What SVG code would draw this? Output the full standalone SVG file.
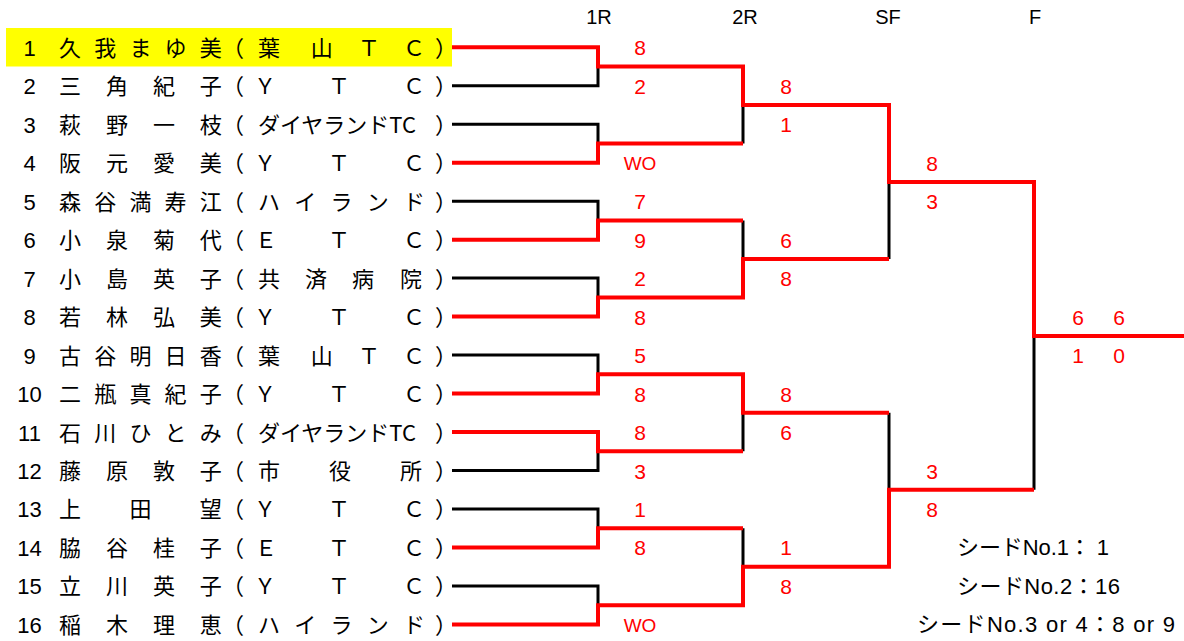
<svg xmlns="http://www.w3.org/2000/svg" width="1184" height="641" viewBox="0 0 1184 641">
<style>
.nm{font-family:"Noto Sans CJK JP","Noto Sans CJK SC",sans-serif;font-size:22px;fill:#000;text-anchor:middle}
.af{font-family:"Noto Sans CJK JP","Noto Sans CJK SC",sans-serif;font-size:22px;fill:#000}
.no{font-family:"Liberation Sans","Noto Sans CJK JP",sans-serif;font-size:22px;fill:#000;text-anchor:middle}
.sc{font-family:"Liberation Sans",sans-serif;font-size:21px;fill:#ff0000;text-anchor:middle}
.wo{font-family:"Liberation Sans",sans-serif;font-size:19px;fill:#ff0000;text-anchor:middle}
.hd{font-family:"Liberation Sans",sans-serif;font-size:20px;fill:#000;text-anchor:middle}
.sd{font-family:"Liberation Sans","Noto Sans CJK JP",sans-serif;font-size:22px;fill:#000}
.r{stroke:#ff0000;stroke-width:4;fill:none}
.b{stroke:#000;stroke-width:3;fill:none}
</style>
<rect width="1184" height="641" fill="#fff"/>
<g id="headers">
<text class="hd" x="599" y="24">1R</text>
<text class="hd" x="745" y="24">2R</text>
<text class="hd" x="888" y="24">SF</text>
<text class="hd" x="1035" y="24">F</text>
</g>
<g id="p1"><rect x="6" y="28" width="446" height="38.5" fill="#ffff00"/>
<text class="no" x="29.5" y="55.8">1</text>
<text class="nm" x="70 105.2 140.4 175.6 210.8" y="55.8">久我まゆ美</text>
<text class="nm" x="233 269 321.7 369 414 446" y="55.8">（葉山ＴＣ）</text></g>
<g id="p2"><text class="no" x="29.5" y="94.3">2</text>
<text class="nm" x="70 116.9 163.9 210.8" y="94.3">三角紀子</text>
<text class="nm" x="233 265 339 414 446" y="94.3">（ＹＴＣ）</text></g>
<g id="p3"><text class="no" x="29.5" y="132.7">3</text>
<text class="nm" x="70 116.9 163.9 210.8" y="132.7">萩野一枝</text>
<text class="nm" x="233" y="132.7">（</text><text class="af" x="258" y="132.7">ダイヤランドTC</text><text class="nm" x="446" y="132.7">）</text></g>
<g id="p4"><text class="no" x="29.5" y="171.2">4</text>
<text class="nm" x="70 116.9 163.9 210.8" y="171.2">阪元愛美</text>
<text class="nm" x="233 265 339 414 446" y="171.2">（ＹＴＣ）</text></g>
<g id="p5"><text class="no" x="29.5" y="209.7">5</text>
<text class="nm" x="70 105.2 140.4 175.6 210.8" y="209.7">森谷満寿江</text>
<text class="nm" x="233 269 305.3 341.5 377.8 414 446" y="209.7">（ハイランド）</text></g>
<g id="p6"><text class="no" x="29.5" y="248.2">6</text>
<text class="nm" x="70 116.9 163.9 210.8" y="248.2">小泉菊代</text>
<text class="nm" x="233 266 339 414 446" y="248.2">（ＥＴＣ）</text></g>
<g id="p7"><text class="no" x="29.5" y="286.6">7</text>
<text class="nm" x="70 116.9 163.9 210.8" y="286.6">小島英子</text>
<text class="nm" x="233 269 316 363 411 446" y="286.6">（共済病院）</text></g>
<g id="p8"><text class="no" x="29.5" y="325.1">8</text>
<text class="nm" x="70 116.9 163.9 210.8" y="325.1">若林弘美</text>
<text class="nm" x="233 265 339 414 446" y="325.1">（ＹＴＣ）</text></g>
<g id="p9"><text class="no" x="29.5" y="363.6">9</text>
<text class="nm" x="70 105.2 140.4 175.6 210.8" y="363.6">古谷明日香</text>
<text class="nm" x="233 269 321.7 369 414 446" y="363.6">（葉山ＴＣ）</text></g>
<g id="p10"><text class="no" x="29.5" y="402">10</text>
<text class="nm" x="70 105.2 140.4 175.6 210.8" y="402">二瓶真紀子</text>
<text class="nm" x="233 265 339 414 446" y="402">（ＹＴＣ）</text></g>
<g id="p11"><text class="no" x="29.5" y="440.5">11</text>
<text class="nm" x="70 105.2 140.4 175.6 210.8" y="440.5">石川ひとみ</text>
<text class="nm" x="233" y="440.5">（</text><text class="af" x="258" y="440.5">ダイヤランドTC</text><text class="nm" x="446" y="440.5">）</text></g>
<g id="p12"><text class="no" x="29.5" y="479">12</text>
<text class="nm" x="70 116.9 163.9 210.8" y="479">藤原敦子</text>
<text class="nm" x="233 269 340 411 446" y="479">（市役所）</text></g>
<g id="p13"><text class="no" x="29.5" y="517.4">13</text>
<text class="nm" x="70 140.4 210.8" y="517.4">上田望</text>
<text class="nm" x="233 265 339 414 446" y="517.4">（ＹＴＣ）</text></g>
<g id="p14"><text class="no" x="29.5" y="555.9">14</text>
<text class="nm" x="70 116.9 163.9 210.8" y="555.9">脇谷桂子</text>
<text class="nm" x="233 266 339 414 446" y="555.9">（ＥＴＣ）</text></g>
<g id="p15"><text class="no" x="29.5" y="594.4">15</text>
<text class="nm" x="70 116.9 163.9 210.8" y="594.4">立川英子</text>
<text class="nm" x="233 265 339 414 446" y="594.4">（ＹＴＣ）</text></g>
<g id="p16"><text class="no" x="29.5" y="632.9">16</text>
<text class="nm" x="70 116.9 163.9 210.8" y="632.9">稲木理恵</text>
<text class="nm" x="233 269 305.3 341.5 377.8 414 446" y="632.9">（ハイランド）</text></g>
<g id="connectors">
<path class="b" d="M452,85.8H598V66.5M452,124.2H598V143.5M452,201.2H598V220.5M452,278.1H598V297.4M452,355.1H598V374.3M452,470.5H598V451.3M452,508.9H598V528.2M452,585.9H598V605.2M743,105V143.5M743,220.5V259M743,412.8V451.3M743,528.2V566.7M889,182V259M889,412.8V489.7M1034,335.9V489.7"/>
<path class="r" d="M452,47.3H598V66.5H743V105H889V182H1034V335.9H1184"/>
<path class="r" d="M452,162.7H598V143.5H743"/>
<path class="r" d="M452,239.7H598V220.5H743"/>
<path class="r" d="M452,316.6H598V297.4H743V259H889"/>
<path class="r" d="M452,393.5H598V374.3H743V412.8H889"/>
<path class="r" d="M452,432H598V451.3H743"/>
<path class="r" d="M452,547.4H598V528.2H743"/>
<path class="r" d="M452,624.4H598V605.2H743V566.7H889V489.7H1034"/>
</g>
<g id="scores">
<text class="sc" x="640" y="55.3">8</text>
<text class="sc" x="640" y="93.8">2</text>
<text class="wo" x="640" y="170">WO</text>
<text class="sc" x="640" y="209.2">7</text>
<text class="sc" x="640" y="247.7">9</text>
<text class="sc" x="640" y="286.1">2</text>
<text class="sc" x="640" y="324.6">8</text>
<text class="sc" x="640" y="363.1">5</text>
<text class="sc" x="640" y="401.5">8</text>
<text class="sc" x="640" y="440">8</text>
<text class="sc" x="640" y="478.5">3</text>
<text class="sc" x="640" y="516.9">1</text>
<text class="sc" x="640" y="555.4">8</text>
<text class="wo" x="640" y="631.7">WO</text>
<text class="sc" x="786" y="93.8">8</text>
<text class="sc" x="786" y="132.2">1</text>
<text class="sc" x="786" y="247.7">6</text>
<text class="sc" x="786" y="286.1">8</text>
<text class="sc" x="786" y="401.5">8</text>
<text class="sc" x="786" y="440">6</text>
<text class="sc" x="786" y="555.4">1</text>
<text class="sc" x="786" y="593.9">8</text>
<text class="sc" x="932" y="170.7">8</text>
<text class="sc" x="932" y="209.2">3</text>
<text class="sc" x="932" y="478.5">3</text>
<text class="sc" x="932" y="516.9">8</text>
<text class="sc" x="1078" y="324.6">6</text>
<text class="sc" x="1119" y="324.6">6</text>
<text class="sc" x="1078" y="363.1">1</text>
<text class="sc" x="1119" y="363.1">0</text>
</g>
<g id="seeds">
<text class="sd" x="957" y="555.4" textLength="152" lengthAdjust="spacing">シードNo.1： 1</text>
<text class="sd" x="957" y="593.9" textLength="163" lengthAdjust="spacing">シードNo.2：16</text>
<text class="sd" x="917" y="632.4" textLength="258" lengthAdjust="spacing">シードNo.3 or 4：8 or 9</text>
</g>
</svg>
